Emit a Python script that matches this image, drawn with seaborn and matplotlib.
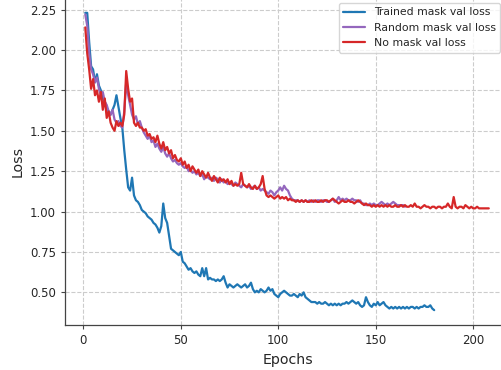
import numpy as np
import matplotlib
matplotlib.use("Agg")
import matplotlib.pyplot as plt
import seaborn as sns

# valores (loss de validacion por epoca)
trained_mask = [
    2.23, 2.23, 2.05, 1.90, 1.88, 1.80, 1.85, 1.78, 1.75, 1.70,
    1.68, 1.64, 1.62, 1.60, 1.63, 1.66, 1.72, 1.65, 1.58, 1.52,
    1.38, 1.26, 1.15, 1.13, 1.21, 1.10, 1.07, 1.06, 1.04, 1.01,
    1.00, 0.99, 0.97, 0.96, 0.95, 0.93, 0.92, 0.90, 0.87, 0.91,
    1.05, 0.96, 0.93, 0.85, 0.77, 0.76, 0.75, 0.74, 0.73, 0.75,
    0.69, 0.68, 0.66, 0.64, 0.65, 0.63, 0.62, 0.63, 0.61, 0.60,
    0.65, 0.60, 0.65, 0.58, 0.59, 0.58, 0.58, 0.57, 0.58, 0.57,
    0.58, 0.60, 0.56, 0.53, 0.55, 0.54, 0.53, 0.54, 0.55, 0.54,
    0.53, 0.54, 0.55, 0.53, 0.54, 0.56, 0.52, 0.50, 0.51, 0.50,
    0.52, 0.51, 0.50, 0.51, 0.53, 0.51, 0.52, 0.49, 0.48, 0.47,
    0.49, 0.50, 0.51, 0.50, 0.49, 0.48, 0.48, 0.49, 0.48, 0.47,
    0.49, 0.48, 0.50, 0.47, 0.46, 0.45, 0.44, 0.44, 0.44, 0.43,
    0.44, 0.43, 0.43, 0.44, 0.43, 0.42, 0.43, 0.42, 0.43, 0.42,
    0.43, 0.42, 0.43, 0.43, 0.44, 0.43, 0.44, 0.45, 0.44, 0.43,
    0.44, 0.42, 0.41, 0.42, 0.47, 0.44, 0.42, 0.41, 0.43, 0.42,
    0.44, 0.42, 0.43, 0.44, 0.42, 0.41, 0.40, 0.41, 0.40, 0.41,
    0.40, 0.41, 0.40, 0.41, 0.40, 0.41, 0.40, 0.41, 0.41, 0.40,
    0.41, 0.40, 0.41, 0.41, 0.42, 0.41, 0.41, 0.42, 0.40, 0.39,
]

random_mask = [
    2.22, 2.15, 1.98, 1.88, 1.85, 1.80, 1.83, 1.76, 1.72, 1.74,
    1.68, 1.66, 1.62, 1.60, 1.63, 1.57, 1.55, 1.56, 1.53, 1.52,
    1.62, 1.80, 1.72, 1.66, 1.60, 1.57, 1.59, 1.54, 1.56, 1.52,
    1.49, 1.47, 1.45, 1.47, 1.43, 1.44, 1.40, 1.42, 1.39, 1.37,
    1.40, 1.36, 1.34, 1.36, 1.33, 1.31, 1.32, 1.30, 1.29, 1.30,
    1.28, 1.27, 1.28, 1.25, 1.26, 1.24, 1.25, 1.23, 1.24, 1.22,
    1.23, 1.20, 1.22, 1.21, 1.20, 1.21, 1.19, 1.21, 1.20, 1.18,
    1.20, 1.18, 1.19, 1.17, 1.18, 1.17, 1.16, 1.18, 1.17, 1.16,
    1.15, 1.17, 1.16, 1.15, 1.16, 1.14, 1.15, 1.16, 1.14, 1.15,
    1.13, 1.14, 1.13, 1.12, 1.11, 1.13, 1.12, 1.10, 1.12, 1.13,
    1.15, 1.13, 1.16, 1.14, 1.13, 1.10, 1.08, 1.07, 1.07, 1.07,
    1.06, 1.07, 1.06, 1.07, 1.06, 1.07, 1.06, 1.07, 1.06, 1.07,
    1.07, 1.06, 1.07, 1.07, 1.06, 1.06, 1.07, 1.08, 1.06, 1.07,
    1.09, 1.07, 1.08, 1.07, 1.08, 1.07, 1.07, 1.08, 1.07, 1.07,
    1.06, 1.07, 1.05, 1.05, 1.04, 1.04, 1.05, 1.04, 1.05, 1.04,
    1.04, 1.05, 1.06, 1.05, 1.04, 1.05, 1.04, 1.05, 1.06, 1.05,
    1.04, 1.04, 1.04, 1.04, 1.03,
]

no_mask = [
    2.14, 1.98, 1.88, 1.76, 1.82, 1.72, 1.75, 1.68, 1.74, 1.63,
    1.70, 1.58, 1.62, 1.55, 1.52, 1.50, 1.56, 1.53, 1.55, 1.53,
    1.60, 1.87, 1.76, 1.68, 1.70, 1.55, 1.53, 1.55, 1.52, 1.52,
    1.50, 1.51, 1.47, 1.48, 1.45, 1.46, 1.43, 1.47, 1.42, 1.39,
    1.43, 1.38, 1.40, 1.36, 1.38, 1.33, 1.35, 1.32, 1.31, 1.33,
    1.29, 1.31, 1.27, 1.29, 1.25, 1.28, 1.26, 1.24, 1.26, 1.22,
    1.25, 1.23, 1.21, 1.24, 1.21, 1.19, 1.22, 1.20, 1.18, 1.21,
    1.19, 1.20, 1.18, 1.20, 1.17, 1.19, 1.16, 1.17, 1.16, 1.17,
    1.24, 1.17, 1.16, 1.15, 1.17, 1.15, 1.14, 1.16, 1.14, 1.15,
    1.17, 1.22, 1.14, 1.10, 1.09, 1.10, 1.09, 1.08, 1.09, 1.10,
    1.08, 1.09, 1.08, 1.09, 1.07, 1.08, 1.07, 1.07, 1.06, 1.07,
    1.06, 1.07, 1.06, 1.07, 1.06, 1.06, 1.07, 1.06, 1.07, 1.06,
    1.06, 1.07, 1.06, 1.07, 1.07, 1.06, 1.07, 1.08, 1.07, 1.06,
    1.05, 1.06, 1.07, 1.06, 1.06, 1.07, 1.06, 1.06, 1.05, 1.06,
    1.07, 1.06, 1.05, 1.04, 1.05, 1.04, 1.04, 1.03, 1.04, 1.03,
    1.04, 1.03, 1.04, 1.03, 1.04, 1.03, 1.04, 1.03, 1.03, 1.04,
    1.03, 1.03, 1.04, 1.03, 1.04, 1.03, 1.03, 1.04, 1.03, 1.05,
    1.03, 1.03, 1.02, 1.03, 1.04, 1.03, 1.03, 1.02, 1.03, 1.03,
    1.02, 1.03, 1.03, 1.02, 1.03, 1.03, 1.05, 1.03, 1.02, 1.09,
    1.03, 1.02, 1.03, 1.03, 1.02, 1.04, 1.03, 1.02, 1.03, 1.02,
    1.02, 1.03, 1.02, 1.02, 1.02, 1.02, 1.02, 1.02,
]

series = [
    ("Trained mask val loss", trained_mask, "#1f77b4"),
    ("Random mask val loss", random_mask, "#9467bd"),
    ("No mask val loss", no_mask, "#d62728"),
]

sns.set_style("ticks")
plt.rcParams["font.family"] = ["DejaVu Sans"]

fig = plt.figure(figsize=(5.02, 3.70), dpi=100)
ax = fig.add_axes([65 / 502, 45 / 370, 446 / 502, 327 / 370])

for label, values, color in series:
    epochs = np.arange(1, len(values) + 1)
    sns.lineplot(x=epochs, y=values, ax=ax, label=label, color=color, linewidth=1.6)

ax.set_xlim(-9.4, 219.4)
ax.set_ylim(0.298, 2.322)
ax.set_xticks([0, 50, 100, 150, 200])
ax.set_yticks([0.50, 0.75, 1.00, 1.25, 1.50, 1.75, 2.00, 2.25])
ax.yaxis.set_major_formatter(matplotlib.ticker.FormatStrFormatter("%.2f"))
ax.grid(True, linestyle="--", color="#cccccc", linewidth=0.8)
ax.set_axisbelow(True)

ax.set_xlabel("Epochs", fontsize=10.2)
ax.set_ylabel("Loss", fontsize=10.2)
ax.tick_params(labelsize=8.5, length=3, width=0.8, color="#444444")
for sp in ax.spines.values():
    sp.set_color("#444444")
    sp.set_linewidth(0.9)

ax.legend(loc="upper right", bbox_to_anchor=(500 / 502, 1 - 3 / 370),
          bbox_transform=fig.transFigure, borderaxespad=0, fontsize=7.8,
          frameon=True, fancybox=True, framealpha=0.8, edgecolor="#cccccc")

fig.savefig("out.png", dpi=100)
